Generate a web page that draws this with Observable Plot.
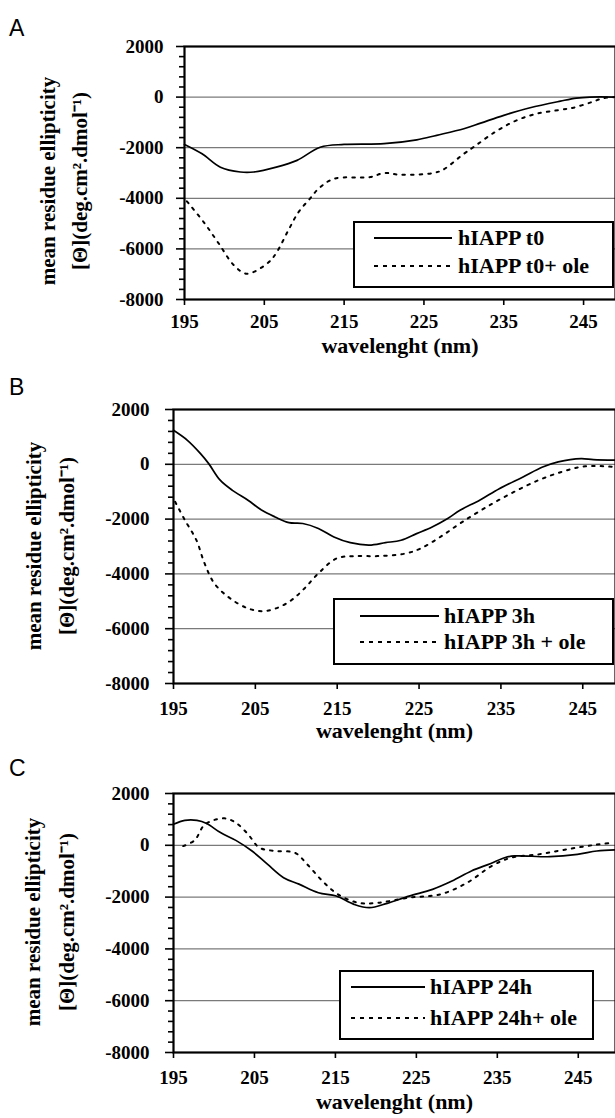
<!DOCTYPE html>
<html>
<head>
<meta charset="utf-8">
<script src="https://cdn.jsdelivr.net/npm/d3@7"></script>
<script src="https://cdn.jsdelivr.net/npm/@observablehq/plot@0.6"></script>
<style>
  html, body { margin: 0; padding: 0; background: #fff; }
  #wrap { position: relative; width: 615px; height: 1118px; overflow: hidden; background: #fff; }
  .panel { position: absolute; left: 0; }
  .panel text { font-family: "Liberation Serif", "Times New Roman", serif !important; font-weight: bold; }
  .letter { position: absolute; left: 9px; font-family: "Liberation Sans", Arial, sans-serif; font-size: 23px; color: #000; line-height: 1; }
  .legend { position: absolute; background: #fff; border: 2px solid #000; box-sizing: border-box; }
  .legend svg { position: absolute; left: 0; top: 0; overflow: visible; }
  .legend span { position: absolute; white-space: nowrap; font-family: "Liberation Serif", "Times New Roman", serif; font-weight: bold; font-size: 22px; transform: translateY(-50%); line-height: 1; }
</style>
</head>
<body>
<div id="wrap"></div>
<script>
// ---------- data ----------
const xTicks = [195, 205, 215, 225, 235, 245];
const yTicks = [2000, 0, -2000, -4000, -6000, -8000];
const gridValues = [0, -2000, -4000, -6000];
const xTitle = "wavelenght (nm)";
const yTitle1 = "mean residue ellipticity";
const yTitle2 = "[Θ](deg.cm².dmol⁻¹)";
const panelLetters = ["A", "B", "C"];

// Panel A
const labelsA = ["hIAPP t0", "hIAPP t0+ ole"];
const wlA1 = [195,197.2,199.5,202,203.7,206.5,209.1,212,215,220,224.1,226.6,230,232.1,235,238.3,242.1,244.1,245.8,249];
const vA1 = [-1870,-2240,-2770,-2960,-2960,-2770,-2500,-1980,-1870,-1840,-1690,-1510,-1250,-1030,-720,-420,-160,-40,0,0];
const wlA2 = [195.3,197.4,199.3,201.2,202.8,205.5,206.5,208,209.3,210.7,211.8,213.7,218.3,220,222,226.2,227.4,230,231.2,233.9,236.6,239.1,242.1,243.7,246,247.5,249];
const vA2 = [-4120,-4940,-5790,-6650,-6980,-6540,-6160,-5270,-4540,-4020,-3620,-3230,-3160,-3000,-3070,-3000,-2870,-2240,-1980,-1380,-920,-660,-500,-420,-200,-40,0];

// Panel B
const labelsB = ["hIAPP 3h", "hIAPP 3h + ole"];
const wlB1 = [195,196.7,198.3,199.3,200.7,202.2,204.1,205.8,207.4,209.1,210.8,212.7,214.6,216.6,218.9,220.9,222.8,224.7,226.6,228.5,230,232.4,234.8,237.7,240.1,242,244.8,246.3,249];
const vB1 = [1240,875,390,25,-580,-950,-1310,-1680,-1920,-2130,-2160,-2340,-2650,-2860,-2950,-2860,-2770,-2530,-2290,-1980,-1680,-1310,-890,-460,-100,90,210,170,150];
const wlB2 = [195.2,196.4,197.8,198.8,200,201.9,204.1,205.8,207.5,209.4,211,212.7,214.9,217,219.9,223.3,225.2,227.6,230,232.9,236.2,239.6,242.4,245.3,249];
const vB2 = [-1370,-2040,-2770,-3620,-4350,-4890,-5260,-5360,-5260,-4960,-4530,-3980,-3440,-3350,-3350,-3260,-3070,-2650,-2160,-1620,-1070,-580,-280,-70,-100];

// Panel C
const labelsC = ["hIAPP 24h", "hIAPP 24h+ ole"];
const wlC1 = [195,196.4,197.9,199.1,200.8,202.7,204.7,206.6,208.6,210.5,212.9,215.1,217.3,219.2,221.4,224.1,227,229.4,231.8,234.2,235.9,237.1,241.5,244.9,247.3,249.6];
const vC1 = [810,960,960,840,490,190,-220,-730,-1250,-1500,-1830,-1960,-2280,-2410,-2240,-1960,-1700,-1380,-990,-700,-480,-410,-440,-350,-220,-180];
const wlC2 = [196.2,197.6,198.9,201.3,202.7,204.2,205.6,207.6,210,211.5,213.4,215.3,217.8,220.2,224.1,228,231.3,234.3,236.7,240.1,243.5,246.9,249.3];
const vC2 = [-30,190,810,1040,870,430,-90,-220,-290,-730,-1380,-1890,-2220,-2220,-2020,-1890,-1440,-800,-480,-350,-160,10,100];

// ---------- drawing ----------
const serif = "'Liberation Serif', 'Times New Roman', serif";
const minorTicks = d3.range(-8000, 2001, 400).filter(v => v % 2000 !== 0);
const toRows = (xs, ys) => xs.map((x, i) => ({x, y: ys[i]}));

const panels = [
  {letter: panelLetters[0], letterTop: 17, top: 0, height: 365, mt: 46, mb: 66, ml: 184, xMax: 249,
   xPad: 9, xTitleDy: 53, yPad: 13, t1x: 48, t2x: 80, ty: 181,
   s1: toRows(wlA1, vA1), s2: toRows(wlA2, vA2), labels: labelsA,
   lg: {left: 353, top: 221, w: 261, h: 67, r1: 17, r2: 45, lx1: 19, lx2: 97, tx: 103}},
  {letter: panelLetters[1], letterTop: 376, top: 365, height: 378, mt: 44, mb: 60, ml: 173, xMax: 249,
   xPad: 12, xTitleDy: 54, yPad: 16, t1x: 34, t2x: 67, ty: 546,
   s1: toRows(wlB1, vB1), s2: toRows(wlB2, vB2), labels: labelsB,
   lg: {left: 333, top: 598, w: 281, h: 67, r1: 18, r2: 44, lx1: 25, lx2: 104, tx: 109}},
  {letter: panelLetters[2], letterTop: 757, top: 743, height: 375, mt: 50, mb: 66, ml: 173, xMax: 249.6,
   xPad: 12, xTitleDy: 56, yPad: 16, t1x: 33, t2x: 67, ty: 922,
   s1: toRows(wlC1, vC1), s2: toRows(wlC2, vC2), labels: labelsC,
   lg: {left: 339, top: 970, w: 255, h: 70, r1: 17, r2: 48, lx1: 10, lx2: 84, tx: 89}}
];

const wrap = document.getElementById("wrap");

for (const p of panels) {
  const chart = Plot.plot({
    width: 615,
    height: p.height,
    marginLeft: p.ml,
    marginRight: 0,
    marginTop: p.mt,
    marginBottom: p.mb,
    style: {fontSize: "19px", color: "#000", background: "transparent", overflow: "visible"},
    x: {domain: [195, p.xMax]},
    y: {domain: [-8000, 2000]},
    marks: [
      Plot.gridY(gridValues, {stroke: "#7a7a7a", strokeOpacity: 1, strokeWidth: 1.2}),
      Plot.axisY(minorTicks, {tickSize: 5, text: null, label: null, strokeWidth: 1.6}),
      Plot.axisY(yTicks, {tickSize: 8, tickPadding: p.yPad, label: null, strokeWidth: 1.6, tickFormat: d => String(d), fontSize: 19, fontFamily: serif, fontWeight: "bold"}),
      Plot.axisX(xTicks, {tickSize: 6, tickPadding: p.xPad, label: null, strokeWidth: 1.6, tickFormat: d => String(d), fontSize: 19, fontFamily: serif, fontWeight: "bold"}),
      Plot.text([xTitle], {frameAnchor: "bottom", dy: p.xTitleDy, fontSize: 22, fontWeight: "bold", fontFamily: serif}),
      Plot.line(p.s1, {x: "x", y: "y", stroke: "#000", strokeWidth: 1.7, curve: "catmull-rom"}),
      Plot.line(p.s2, {x: "x", y: "y", stroke: "#000", strokeWidth: 2, strokeDasharray: "2.5,6", curve: "catmull-rom"}),
      Plot.frame({stroke: "#000", strokeWidth: 2.2})
    ]
  });
  chart.classList.add("panel");
  chart.style.top = p.top + "px";
  chart.style.fontFamily = serif;

  // rotated y-axis title (two lines)
  const svgSel = d3.select(chart);
  [[yTitle1, p.t1x], [yTitle2, p.t2x]].forEach(([t, x]) => {
    svgSel.append("text")
      .attr("transform", `translate(${x},${p.ty - p.top}) rotate(-90)`)
      .attr("text-anchor", "middle")
      .attr("dominant-baseline", "central")
      .attr("font-size", 21)
      .attr("font-weight", "bold")
      .attr("font-family", serif)
      .attr("fill", "#000")
      .text(t);
  });
  wrap.appendChild(chart);

  const letter = document.createElement("div");
  letter.className = "letter";
  letter.style.top = p.letterTop + "px";
  letter.textContent = p.letter;
  wrap.appendChild(letter);

  const lg = document.createElement("div");
  lg.className = "legend";
  Object.assign(lg.style, {left: p.lg.left + "px", top: p.lg.top + "px", width: p.lg.w + "px", height: p.lg.h + "px"});
  const ns = "http://www.w3.org/2000/svg";
  const svg = document.createElementNS(ns, "svg");
  svg.setAttribute("width", p.lg.w);
  svg.setAttribute("height", p.lg.h);
  [[p.lg.r1, null], [p.lg.r2, "4,5"]].forEach(([ry, dash]) => {
    const ln = document.createElementNS(ns, "line");
    ln.setAttribute("x1", p.lg.lx1); ln.setAttribute("x2", p.lg.lx2);
    ln.setAttribute("y1", ry - 2); ln.setAttribute("y2", ry - 2);
    ln.setAttribute("stroke", "#000"); ln.setAttribute("stroke-width", 2);
    if (dash) ln.setAttribute("stroke-dasharray", dash);
    svg.appendChild(ln);
  });
  lg.appendChild(svg);
  [p.lg.r1, p.lg.r2].forEach((ry, i) => {
    const s = document.createElement("span");
    s.textContent = p.labels[i];
    s.style.left = p.lg.tx + "px";
    s.style.top = (ry - 2) + "px";
    lg.appendChild(s);
  });
  wrap.appendChild(lg);
}
</script>
</body>
</html>
